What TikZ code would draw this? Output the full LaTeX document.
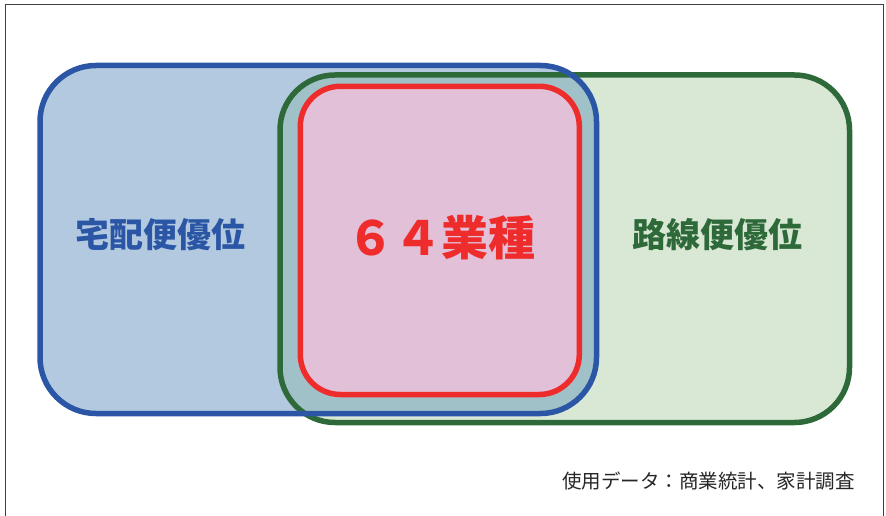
\documentclass[tikz,border=0pt]{standalone}
\usepackage{fontspec}
\setmainfont{Noto Sans CJK JP}
\newfontfamily\jpbold{Noto Sans CJK JP}[BoldFont={* Bold}]
\definecolor{bluestroke}{HTML}{2A56A5}
\definecolor{bluefill}{HTML}{B3C9DF}
\definecolor{greenstroke}{HTML}{2E6A39}
\definecolor{greenfill}{HTML}{D9E8D5}
\definecolor{overlapfill}{HTML}{A1C1C8}
\definecolor{redstroke}{HTML}{EE2C2C}
\definecolor{pinkfill}{HTML}{E2C0D8}
\definecolor{framecol}{HTML}{404040}
\tikzset{
  setline/.style={line width=5.5pt},
  lbl/.style={font=\fontsize{34}{34}\selectfont\bfseries, inner sep=0pt},
}
\begin{document}
\begin{tikzpicture}[x=1pt,y=-1pt]
\useasboundingbox (0,0) rectangle (886,516);
\fill[white] (0,0) rectangle (886,516);
\draw[framecol, line width=1.2pt] (5.5,516) -- (5.5,4.8) -- (883.5,4.8) -- (883.5,516);
% fills
\fill[bluefill, rounded corners=56] (40,65.5) rectangle (596.5,413.5);
\fill[greenfill, rounded corners=55] (280,75) rectangle (849.5,422.5);
\begin{scope}
  \clip[rounded corners=56] (40,65.5) rectangle (596.5,413.5);
  \fill[overlapfill, rounded corners=55] (280,75) rectangle (849.5,422.5);
\end{scope}
\fill[pinkfill, rounded corners=40] (300.3,86.3) rectangle (579.3,394.5);
% strokes
\draw[setline, greenstroke, rounded corners=55] (280,75) rectangle (849.5,422.5);
\draw[setline, bluestroke, rounded corners=56] (40,65.5) rectangle (596.5,413.5);
\draw[setline, redstroke, rounded corners=40] (300.3,86.3) rectangle (579.3,394.5);
% labels
\node[lbl, text=bluestroke] (takuhai) at (160,235) {宅配便優位};
\node[lbl, text=greenstroke] (rosen) at (717.5,235) {路線便優位};
\node[lbl, text=redstroke, font=\fontsize{47}{47}\selectfont\bfseries] (gyoshu) at (441.5,238) {６４業種};
\node[inner sep=0pt, font=\fontsize{19.5}{19.5}\selectfont, text=black!85] (src) at (708.5,481.5) {使用データ：商業統計、家計調査};
\end{tikzpicture}
\end{document}
